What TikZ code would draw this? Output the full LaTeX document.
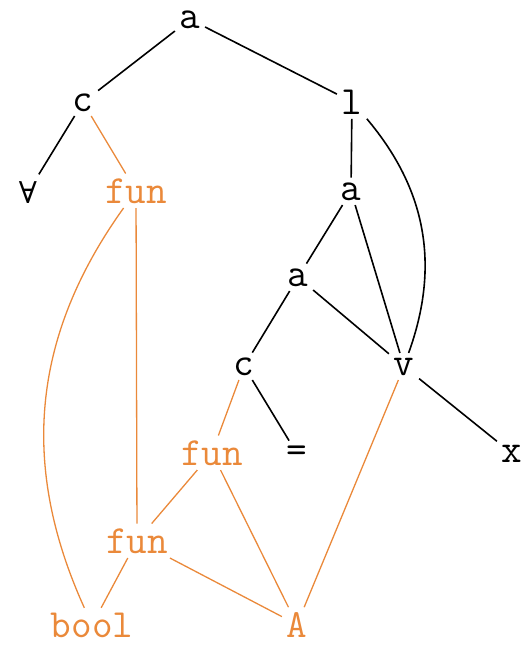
\documentclass[tikz,border=0pt]{standalone}
\usepackage{fontspec}
\newfontfamily\symfont{DejaVu Serif}
\usetikzlibrary{positioning}
\definecolor{typeorange}{RGB}{234,137,58}

\begin{document}
\begin{tikzpicture}[x=1pt, y=-1pt,
        lbl/.style={anchor=base, inner sep=4pt, font=\ttfamily\fontsize{40}{40}\selectfont},
        ty/.style={lbl, text=typeorange},
        tedge/.style={typeorange, line width=1.3pt},
        every path/.style={line width=1.6pt}]
            \useasboundingbox (0,0) rectangle (531,645);

            % term nodes
            \node[lbl] (app) at (190,28) {a};
            \node[lbl] (cst) at (83,111) {c};
            \node[lbl] (lam) at (352,114) {l};
            \node[lbl, inner sep=6pt] (all) at (28,203) {\symfont\fontsize{30}{30}\selectfont ∀};
            \node[lbl] (appr) at (351,200) {a};
            \node[lbl] (appl) at (298,286) {a};
            \node[lbl] (eqc) at (244,375) {c};
            \node[lbl] (var) at (404,375) {v};
            \node[lbl] (eq) at (297,462) {=};
            \node[lbl] (xx) at (512,462) {x};

            % type nodes
            \node[ty] (funa) at (136,203) {fun};
            \node[ty] (funb) at (212,465) {fun};
            \node[ty] (func) at (137,553) {fun};
            \node[ty] (bool) at (92,637) {bool};
            \node[ty] (tyA) at (297,637) {A};

            \draw (app) -- (cst);
            \draw (app) -- (lam);
            \draw (cst) -- (all);
            \draw (lam) -- (appr);
            \draw (lam) to[bend left=30] (var);
            \draw (appr) -- (appl);
            \draw (appr) -- (var);
            \draw (appl) -- (eqc);
            \draw (appl) -- (var);
            \draw (eqc) -- (eq);
            \draw (var) -- (xx);

            \draw[tedge] (cst) -- (funa);
            \draw[tedge] (funa) -- (func);
            \draw[tedge] (funa) to[bend right=30] (bool);
            \draw[tedge] (eqc) -- (funb);
            \draw[tedge] (funb) -- (func);
            \draw[tedge] (funb) -- (tyA);
            \draw[tedge] (func) -- (bool);
            \draw[tedge] (func) -- (tyA);
            \draw[tedge] (var) -- (tyA);
        \end{tikzpicture}
\end{document}
